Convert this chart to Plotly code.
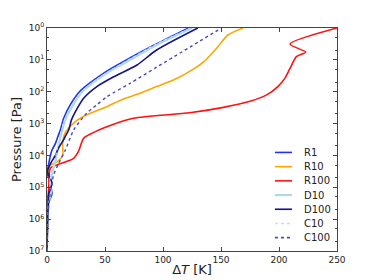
import plotly.graph_objects as go

# Temperature difference [K] and pressure [Pa] per series
R1_T = [0, 0.3, 0.6, 1.5, 4.3, 2.5, 0.3, 1.5, 4.3, 6.9, 9.5, 11.5, 14.4, 20, 28, 35, 49, 63, 92, 122]
R1_P = [1e7, 3e6, 1e6, 3e5, 1.6e5, 7.4e4, 3.5e4, 1.8e4, 6.8e3, 4.5e3, 2.5e3, 1.6e3, 6.8e2, 2.6e2, 1e2, 60, 26, 13, 3.5, 1]

D10_T = [0, 0.5, 1.5, 3.5, 3, 5, 7, 9, 12.5, 15.5, 21.5, 30, 37, 51.5, 66, 94.5, 125]
D10_P = [1e7, 1e6, 3e5, 1.3e5, 6e4, 3e4, 1.6e4, 7e3, 2e3, 8e2, 3e2, 1.05e2, 62, 26, 13, 3.4, 1]

D100_T = [0, 0.5, 1, 1.5, 4.3, 0.5, 3, 7.2, 9.8, 14.4, 15.5, 18.7, 21, 24.4, 31.6, 43, 57.5, 77.6, 94.5, 130]
D100_P = [1e7, 1e6, 4e5, 1.6e5, 7.4e4, 3.2e4, 1.8e4, 1e4, 6e3, 3.2e3, 2.6e3, 1.6e3, 7.8e2, 4.3e2, 1.6e2, 69, 34, 14.5, 4.9, 1]

C10_T = [0, 0.5, 1.5, 3, 2.5, 4.5, 6.5, 8.5, 12, 15, 21, 29.5, 36.5, 51, 65, 93, 124]
C10_P = [1e7, 1e6, 3e5, 1.3e5, 6e4, 3e4, 1.6e4, 7e3, 2e3, 8e2, 3e2, 1.05e2, 62, 26, 13, 3.4, 1]

C100_T = [0, 0.5, 1, 3, 4.3, 5.7, 10, 15.8, 23, 34, 42.8, 51.5, 71.5, 94.5, 150.5]
C100_P = [1e7, 1.6e6, 6e5, 1.26e5, 7.4e4, 4.1e4, 1.8e4, 6.8e3, 1.6e3, 4.8e2, 2.6e2, 1.45e2, 55, 17, 1]

R10_T = [0, 0.3, 1.5, 3, 1.5, 3, 8.6, 13.5, 13.5, 15.5, 22.7, 31.3, 51.4, 66, 80, 94.5, 109, 123, 135, 146, 156, 169]
R10_P = [1e7, 1e6, 1.26e5, 7.4e4, 3.5e4, 2e4, 1.6e4, 1e4, 4e3, 2e3, 9.8e2, 6e2, 2.95e2, 1.7e2, 1.12e2, 69, 43, 23, 11.5, 4.4, 1.66, 1]

R100_T = [0, 0.5, 1.5, 3, 8.6, 15.8, 23, 27, 31.6, 39, 51.5, 74.4, 123, 152, 175, 189.4, 199, 205, 209.5, 215, 223, 209.5, 250]
R100_P = [1e7, 1e6, 1e5, 2.5e4, 2e4, 1.6e4, 1.23e4, 7.6e3, 2.9e3, 2e3, 1.26e3, 6.8e2, 4.6e2, 3.1e2, 2e2, 1.26e2, 69, 38, 18.6, 7.9, 5.75, 3.2, 1]

Y_TICKS = [1, 10, 100, 1e3, 1e4, 1e5, 1e6, 1e7]
Y_TICK_TEXT = ["10<sup>%d</sup>" % i for i in range(8)]
X_TICKS = [0, 50, 100, 150, 200, 250]

NAMES = ["R1", "R10", "R100", "D10", "D100", "C10", "C100"]
COLORS = ["#2233ee", "#ffa500", "#ff1111", "#add8e6", "#141488", "#bfe0ee", "#4848c0"]
DASHES = ["solid", "solid", "solid", "solid", "solid", "dot", "dot"]
WIDTHS = [1.6, 1.6, 1.6, 2.2, 1.6, 1.2, 1.4]
XS = [R1_T, R10_T, R100_T, D10_T, D100_T, C10_T, C100_T]
YS = [R1_P, R10_P, R100_P, D10_P, D100_P, C10_P, C100_P]

fig = go.Figure()
for name, t, p, col, dash, w in zip(NAMES, XS, YS, COLORS, DASHES, WIDTHS):
    fig.add_trace(go.Scatter(x=t, y=p, mode="lines", name=name, showlegend=False,
                             line=dict(color=col, dash=dash, width=w,
                                       shape="spline", smoothing=0.7)))

# compact legend (matplotlib style), built from the series lists
L_X0, L_X1, L_TX, L_Y0, L_DY = 0.786, 0.845, 0.879, 0.442, 0.0637
for i, (name, col, dash, w) in enumerate(zip(NAMES, COLORS, DASHES, WIDTHS)):
    yy = L_Y0 - i * L_DY
    fig.add_shape(type="line", xref="paper", yref="paper", x0=L_X0, x1=L_X1,
                  y0=yy, y1=yy, line=dict(color=col, dash=dash, width=max(w, 1.6)))
    fig.add_annotation(xref="paper", yref="paper", x=L_TX, y=yy, text=name,
                       showarrow=False, xanchor="left", yanchor="middle",
                       font=dict(size=10, color="#222"))

# the page body has an 8px default margin, so the figure is 8px smaller
fig.update_layout(
    width=366, height=272,
    margin=dict(l=39, r=37, t=20, b=29),
    paper_bgcolor="white", plot_bgcolor="white",
    font=dict(family="DejaVu Sans", size=9, color="#222"),
    showlegend=False,
)
fig.update_xaxes(range=[0, 250], tickvals=X_TICKS, ticks="inside", ticklen=4,
                 showgrid=False, zeroline=False, showline=True, linecolor="#444",
                 linewidth=1, mirror="ticks", automargin=False,
                 title=dict(text="Δ<i>T</i> [K]", font=dict(size=13), standoff=1))
fig.update_yaxes(type="log", range=[7, 0], tickvals=Y_TICKS, ticktext=Y_TICK_TEXT,
                 ticks="inside", ticklen=4, showgrid=False, zeroline=False,
                 showline=True, linecolor="#444", linewidth=1, mirror="ticks",
                 automargin=False,
                 minor=dict(ticks="inside", ticklen=2, showgrid=False),
                 title=dict(text="Pressure [Pa]", font=dict(size=13), standoff=4))

fig.write_html("out.html")
